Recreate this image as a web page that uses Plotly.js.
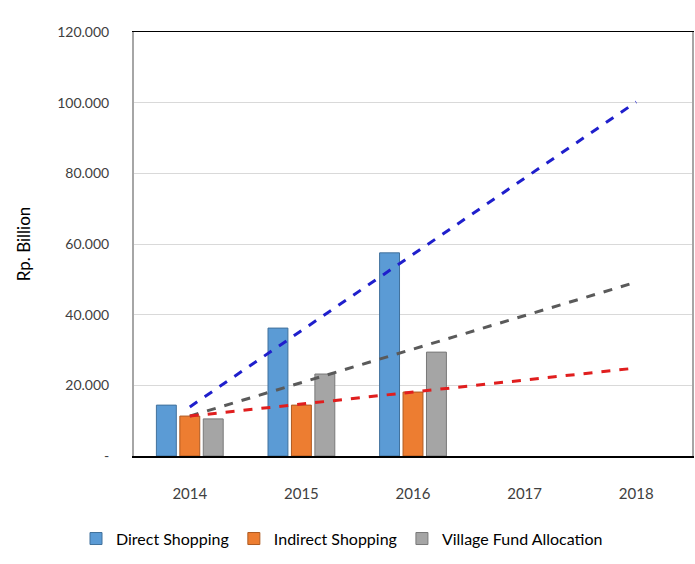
<!DOCTYPE html>
<html>
<head>
<meta charset="utf-8">
<script src="https://cdn.plot.ly/plotly-3.0.1.min.js"></script>
<style>html,body{margin:0;padding:0;background:#fff;}#chart{width:695px;height:564px;}</style>
</head>
<body>
<div id="chart"></div>
<script>
const years = ["2014", "2015", "2016", "2017", "2018"];
const barYears = ["2014", "2015", "2016"];
const directShopping = [14400, 36200, 57500];
const indirectShopping = [11300, 14400, 18100];
const villageFund = [10500, 23200, 29400];
const trendYears = ["2014", "2018"];
const trendDirect = [13900, 100200];
const trendIndirect = [11300, 24900];
const trendVillage = [11300, 49200];
const yTickVals = [0, 20000, 40000, 60000, 80000, 100000, 120000];
const yTickText = ["-", "20.000", "40.000", "60.000", "80.000", "100.000", "120.000"];

const barLine = (c) => ({color: c, width: 1});
const data = [
  {type: "bar", name: "Direct Shopping", x: barYears, y: directShopping,
   marker: {color: "#5B9BD5", line: barLine("#41719C")}},
  {type: "bar", name: "Indirect Shopping", x: barYears, y: indirectShopping,
   marker: {color: "#ED7D31", line: barLine("#AE5A21")}},
  {type: "bar", name: "Village Fund Allocation", x: barYears, y: villageFund,
   marker: {color: "#A5A5A5", line: barLine("#787878")}},
  {type: "scatter", mode: "lines", x: trendYears, y: trendDirect, showlegend: false,
   line: {color: "#1F1FCC", width: 3, dash: "dash"}},
  {type: "scatter", mode: "lines", x: trendYears, y: trendVillage, showlegend: false,
   line: {color: "#5A5A5A", width: 3, dash: "dash"}},
  {type: "scatter", mode: "lines", x: trendYears, y: trendIndirect, showlegend: false,
   line: {color: "#E01E1E", width: 3, dash: "dash"}}
];

const layout = {
  width: 695, height: 564,
  margin: {l: 134, r: 3, t: 32, b: 108},
  paper_bgcolor: "#fff", plot_bgcolor: "#fff",
  font: {family: "Lato, 'Noto Sans', sans-serif", color: "#000"},
  barmode: "group", bargap: 0.37, bargroupgap: 0.15,
  showlegend: true,
  legend: {orientation: "h", x: 76 / 695, xref: "container", xanchor: "left", y: 0.045, yref: "container", yanchor: "middle",
           font: {size: 16, color: "#000"}, traceorder: "normal", itemwidth: 30},
  xaxis: {type: "category", categoryorder: "array", categoryarray: years,
          range: [-0.5, 4.5], showline: true, linecolor: "#000", linewidth: 1.5, mirror: true,
          showgrid: false, ticks: "", ticklabelstandoff: 23,
          tickfont: {size: 15, color: "#404040"}, fixedrange: true},
  yaxis: {range: [0, 120000], tickvals: yTickVals, ticktext: yTickText,
          showline: true, linecolor: "#A6A6A6", linewidth: 2, mirror: true,
          showgrid: true, gridcolor: "#D9D9D9", gridwidth: 1, zeroline: false,
          ticks: "", ticklabelstandoff: 20,
          tickfont: {size: 14, color: "#404040"},
          title: {text: "Rp. Billion", font: {size: 17, color: "#000"}, standoff: 22}}
};

Plotly.newPlot("chart", data, layout, {displayModeBar: false, staticPlot: true});
</script>
</body>
</html>
